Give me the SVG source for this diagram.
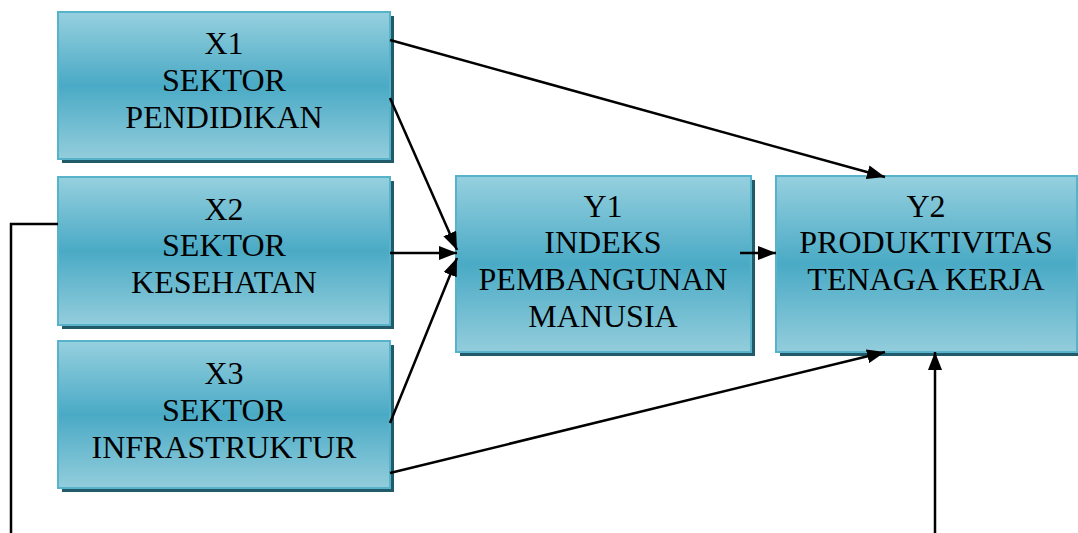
<svg xmlns="http://www.w3.org/2000/svg" width="1078" height="533" viewBox="0 0 1078 533">
<defs>
<linearGradient id="g" x1="0" y1="0" x2="0" y2="1">
<stop offset="0" stop-color="#96d0df"/>
<stop offset="0.5" stop-color="#4aaac5"/>
<stop offset="1" stop-color="#93cddc"/>
</linearGradient>
<marker id="ah" viewBox="0 0 18 14" refX="18" refY="7" markerWidth="18" markerHeight="14" markerUnits="userSpaceOnUse" orient="auto">
<path d="M0,0 L18,7 L0,14 Z" fill="#000"/>
</marker>
<style>
.sh{fill:#215a69}
.bx{fill:url(#g);stroke:#56b3ca;stroke-width:2}
.t{font-size:32px;fill:#000;text-anchor:middle}
.c{stroke:#000;stroke-width:2.5;fill:none}
.a{marker-end:url(#ah)}
</style>
</defs>
<rect width="1078" height="533" fill="#fff"/>
<g font-family="'Liberation Serif', 'DejaVu Serif', serif">
<g id="X1">
<rect class="sh" x="62" y="16" width="332" height="147"/>
<rect class="bx" x="58" y="12" width="332" height="147"/>
<text class="t" x="224" y="54">X1</text>
<text class="t" x="224" y="91">SEKTOR</text>
<text class="t" x="224" y="128">PENDIDIKAN</text>
</g>
<g id="X2">
<rect class="sh" x="62" y="181" width="332" height="148"/>
<rect class="bx" x="58" y="177" width="332" height="148"/>
<text class="t" x="224" y="220">X2</text>
<text class="t" x="224" y="256">SEKTOR</text>
<text class="t" x="224" y="293">KESEHATAN</text>
</g>
<g id="X3">
<rect class="sh" x="62" y="345" width="332" height="147"/>
<rect class="bx" x="58" y="341" width="332" height="147"/>
<text class="t" x="224" y="384">X3</text>
<text class="t" x="224" y="421">SEKTOR</text>
<text class="t" x="224" y="458">INFRASTRUKTUR</text>
</g>
<g id="Y1">
<rect class="sh" x="460" y="180" width="295" height="176"/>
<rect class="bx" x="456" y="176" width="295" height="176"/>
<text class="t" x="603" y="217">Y1</text>
<text class="t" x="603" y="253">INDEKS</text>
<text class="t" x="603" y="290">PEMBANGUNAN</text>
<text class="t" x="603" y="327">MANUSIA</text>
</g>
<g id="Y2">
<rect class="sh" x="780" y="180" width="301" height="176"/>
<rect class="bx" x="776" y="176" width="301" height="176"/>
<text class="t" x="926" y="217">Y2</text>
<text class="t" x="926" y="253">PRODUKTIVITAS</text>
<text class="t" x="926" y="290">TENAGA KERJA</text>
</g>
</g>
<g id="connectors">
<line class="c a" x1="390" y1="40" x2="885" y2="177"/>
<line class="c a" x1="390" y1="98" x2="457" y2="250"/>
<line class="c a" x1="390" y1="253" x2="457" y2="253"/>
<line class="c a" x1="390" y1="423" x2="457" y2="258"/>
<line class="c a" x1="390" y1="473" x2="885" y2="352"/>
<line class="c a" x1="740" y1="253" x2="776" y2="253"/>
<line class="c a" x1="935" y1="533" x2="935" y2="352"/>
<polyline class="c" points="58,224 11,224 11,533"/>
</g>
</svg>
